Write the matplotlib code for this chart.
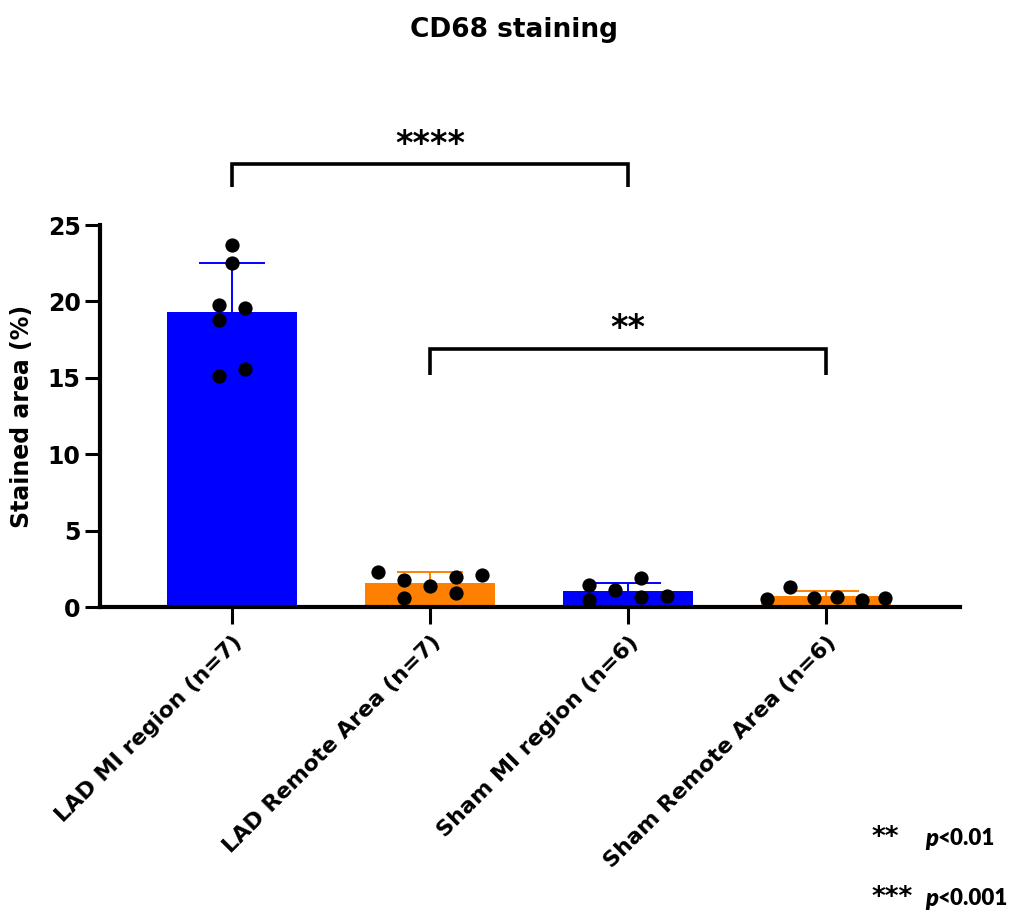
import numpy as np
import matplotlib
matplotlib.use("Agg")
import matplotlib.pyplot as plt

groups = ['LAD MI region (n=7)', 'LAD Remote Area (n=7)',
          'Sham MI region (n=6)', 'Sham Remote Area (n=6)']
means = [19.3, 1.6, 1.05, 0.7]
sds = [3.2, 0.7, 0.55, 0.35]
points = [
    [23.7, 22.5, 19.8, 19.6, 18.8, 15.6, 15.1],
    [2.3, 1.8, 0.6, 1.4, 1.95, 0.9, 2.1],
    [1.47, 0.49, 1.1, 1.9, 0.65, 0.7],
    [0.54, 1.35, 0.6, 0.65, 0.47, 0.6],
]
# horizontal spread of the dots (swarm layout)
offsets = [
    [0, 0, -0.066, 0.066, -0.066, 0.066, -0.066],
    [-0.263, -0.131, -0.131, 0, 0.131, 0.131, 0.263],
    [-0.197, -0.197, -0.066, 0.066, 0.066, 0.197],
    [-0.298, -0.182, -0.061, 0.056, 0.182, 0.298],
]
colors = ['#0000FF', '#FF8000', '#0000FF', '#FF8000']
brackets = [(0, 2, '****'), (1, 3, '**')]
legend_stars = ['**', '***']
legend_p = ['<0.01', '<0.001']

plt.rcParams['font.family'] = 'DejaVu Sans'
plt.rcParams['font.weight'] = 'bold'

fig = plt.figure(figsize=(10.28, 9.13), dpi=100)
ax = fig.add_axes([0.0973, 0.335, 0.837, 0.4185])

x = np.arange(len(groups))
ax.bar(x, means, width=0.66, color=colors, zorder=2)
for i in range(len(groups)):
    top = means[i] + sds[i]
    ax.vlines(x[i], means[i], top, color=colors[i], lw=1.4, zorder=3)
    ax.hlines(top, x[i] - 0.165, x[i] + 0.165, color=colors[i], lw=1.4, zorder=3)
    ax.scatter(x[i] + np.array(offsets[i]), points[i], s=105, color='black',
               zorder=4, clip_on=False, linewidths=0)

ax.set_xlim(-0.667, 3.68)
ax.set_ylim(0, 25)
ax.set_yticks([0, 5, 10, 15, 20, 25])
ax.set_xticks(x)
ax.set_xticklabels(groups, rotation=45, ha='right', va='top',
                   rotation_mode='anchor', fontsize=16, fontweight='bold')
ax.tick_params(axis='y', labelsize=17, width=2.2, length=10.5)
ax.tick_params(axis='x', width=2.2, length=12, pad=6)
for lab in ax.get_yticklabels():
    lab.set_fontweight('bold')
for s in ['top', 'right']:
    ax.spines[s].set_visible(False)
for s in ['left', 'bottom']:
    ax.spines[s].set_linewidth(3)

ax.set_ylabel('Stained area (%)', fontsize=17, fontweight='bold', labelpad=10)

# significance brackets
for (a, b, label), (ytop, ybot, ytxt) in zip(brackets, [(29.0, 27.5, 30.3), (16.9, 15.2, 18.2)]):
    ax.plot([a, a, b, b], [ybot, ytop, ytop, ybot], color='black', lw=2.6,
            clip_on=False, solid_capstyle='butt', solid_joinstyle='miter')
    ax.text((a + b) / 2, ytxt, label, ha='center', va='center',
            fontsize=24, fontweight='bold')

fig.text(0.5, 0.967, 'CD68 staining', ha='center', va='center',
         fontsize=19, fontweight='bold')

# p-value key, bottom right
for stars, pv, yy in zip(legend_stars, legend_p, [0.082, 0.0164]):
    fig.text(0.848, yy, stars, ha='left', va='center', fontsize=19,
             fontweight='bold')
    fig.text(0.900, yy, 'p', ha='left', va='center', fontsize=17,
             fontweight='heavy', fontstyle='italic', family='Lato')
    fig.text(0.9115, yy, pv, ha='left', va='center', fontsize=16,
             fontweight='heavy', family='Lato')

fig.savefig('out.png', dpi=100)
